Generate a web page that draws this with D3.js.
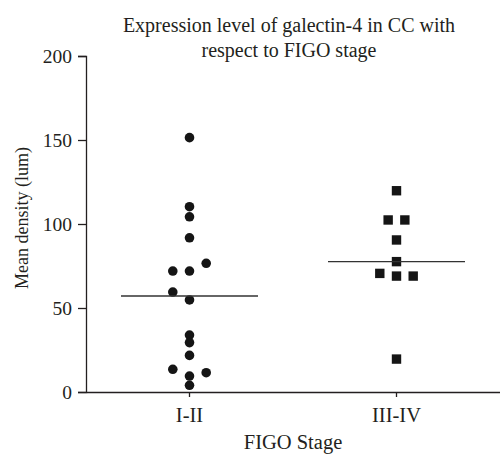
<!DOCTYPE html>
<html lang="en">
<head>
<meta charset="utf-8">
<title>Galectin-4 by FIGO stage</title>
<script src="https://cdn.jsdelivr.net/npm/d3@7"></script>
<style>
  body { margin: 0; background: #fff; }
</style>
</head>
<body>
<script>
var categories = ["I-II", "III-IV"];
var yTicks = [0, 50, 100, 150, 200];

// mean density values per stage
var stageI = [151.4, 110.3, 104.3, 91.8, 76.6, 72, 72, 59.5, 54.8, 33.9, 29.4, 21.8, 13.5, 11.5, 9.5, 4];
var stageIII = [119.8, 102.4, 102.4, 90.5, 77.6, 70.6, 69, 69, 19.6];
// column slot of each point (-1 left, 0 centre, 1 right) as in the scatter
var slotI = [0, 0, 0, 0, 1, -1, 0, -1, 0, 0, 0, 0, -1, 1, 0, 0];
var slotIII = [0, -0.5, 0.5, 0, 0, -1, 0, 1, 0];

var serif = "Liberation Serif, Times New Roman, Times, serif";
var ink = "#231f20";

var w = 500, h = 454;
var svg = d3.select("body").append("svg").attr("width", w).attr("height", h);

var x = d3.scaleBand().domain(categories).range([86, 500]).padding(0);
var y = d3.scaleLinear().domain([0, 200]).range([392, 56]);
var slot = d3.scaleLinear().domain([-1, 1]).range([-16.7, 16.7]);

// axes
var yAxis = svg.append("g")
  .attr("transform", "translate(86,0)")
  .call(d3.axisLeft(y).tickValues(yTicks).tickSize(8).tickPadding(6));
yAxis.attr("font-family", serif).attr("font-size", 19.5);

var xAxis = svg.append("g")
  .attr("transform", "translate(0,392)")
  .call(d3.axisBottom(x).tickSize(5).tickSizeOuter(0).tickPadding(10));
xAxis.attr("font-family", serif).attr("font-size", 20.5);

svg.selectAll(".tick text").attr("fill", ink);
svg.selectAll(".domain, .tick line").attr("stroke", ink).attr("stroke-width", 1.3);

var cx = function(cat) { return x(cat) + x.bandwidth() / 2; };

// stage I-II circles
svg.selectAll("circle")
  .data(stageI)
  .enter()
  .append("circle")
  .attr("cx", function(d, i) { return cx("I-II") + slot(slotI[i]); })
  .attr("cy", function(d) { return y(d); })
  .attr("r", 4.8)
  .attr("fill", "#151515");

// stage III-IV squares
var s = 9.4;
svg.selectAll("rect.pt")
  .data(stageIII)
  .enter()
  .append("rect")
  .attr("class", "pt")
  .attr("x", function(d, i) { return cx("III-IV") + slot(slotIII[i]) - s / 2; })
  .attr("y", function(d) { return y(d) - s / 2; })
  .attr("width", s)
  .attr("height", s)
  .attr("fill", "#151515");

// median lines
var medians = [
  { cat: "I-II", v: d3.median(stageI) },
  { cat: "III-IV", v: d3.median(stageIII) }
];
svg.selectAll("line.med")
  .data(medians)
  .enter()
  .append("line")
  .attr("class", "med")
  .attr("x1", function(d) { return cx(d.cat) - 68.5; })
  .attr("x2", function(d) { return cx(d.cat) + 68.5; })
  .attr("y1", function(d) { return y(d.v); })
  .attr("y2", function(d) { return y(d.v); })
  .attr("stroke", "#333")
  .attr("stroke-width", 1.4);

// title
var title = svg.append("text")
  .attr("text-anchor", "middle")
  .attr("font-family", serif)
  .attr("font-size", 20)
  .attr("fill", ink);
title.append("tspan").attr("x", 289).attr("y", 32).text("Expression level of galectin-4 in CC with");
title.append("tspan").attr("x", 289).attr("y", 57).text("respect to FIGO stage");

// axis labels
svg.append("text")
  .attr("x", 293).attr("y", 449)
  .attr("text-anchor", "middle")
  .attr("font-family", serif)
  .attr("font-size", 20.5)
  .attr("fill", ink)
  .text("FIGO Stage");

svg.append("text")
  .attr("transform", "translate(28,218) rotate(-90)")
  .attr("text-anchor", "middle")
  .attr("font-family", serif)
  .attr("font-size", 18)
  .attr("fill", ink)
  .text("Mean density (lum)");
</script>
</body>
</html>
